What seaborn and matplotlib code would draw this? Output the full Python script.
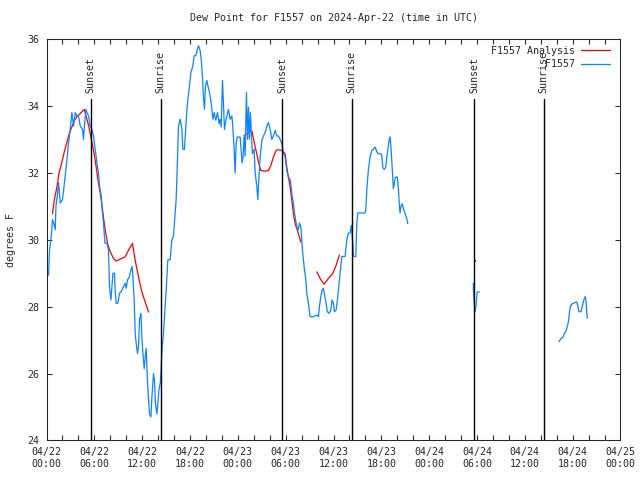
import pandas as pd
import matplotlib
matplotlib.use("Agg")
import matplotlib.pyplot as plt
import matplotlib.dates as mdates
from matplotlib.lines import Line2D
import seaborn as sns

obs_hours_1 = [0.25, 0.38, 0.59, 0.75, 0.90, 1.09, 1.18, 1.34, 1.50, 1.72, 2.01, 2.34, 2.56, 2.76,
               2.97, 3.18, 3.39, 3.60, 3.81, 4.01, 4.23, 4.51, 4.64, 4.76, 4.94, 5.07, 5.27, 5.48,
               5.69, 5.89, 6.11, 6.32, 6.52, 6.65, 6.86, 6.98, 7.15, 7.24, 7.32, 7.57, 7.77, 7.90,
               8.08, 8.20, 8.33, 8.53, 8.61, 8.74, 8.95, 9.15, 9.37, 9.66, 9.87, 9.99, 10.16, 10.41,
               10.58, 10.75, 10.83, 11.00, 11.12, 11.25, 11.41, 11.54, 11.66, 11.84, 11.96, 12.09,
               12.25, 12.38, 12.50, 12.66, 12.79, 12.92, 13.09, 13.22, 13.42, 13.54, 13.67, 13.84,
               13.97, 14.09, 14.26, 14.34, 14.47, 14.67, 14.80, 15.01, 15.22, 15.51, 15.72, 15.92,
               16.14, 16.26, 16.35, 16.55, 16.77, 16.98, 17.10, 17.30, 17.48, 17.61, 17.73, 17.89,
               18.11, 18.36, 18.52, 18.73, 18.86, 19.06, 19.27, 19.40, 19.56, 19.69, 19.81, 19.94,
               20.11, 20.24, 20.44, 20.65, 20.87, 21.03, 21.24, 21.44, 21.66, 21.78, 21.91, 22.07,
               22.19, 22.32, 22.53, 22.70, 22.82, 23.03, 23.25, 23.37, 23.54, 23.66, 23.79, 23.95,
               24.16, 24.29, 24.41, 24.54, 24.66, 24.79, 24.91, 25.08, 25.21, 25.33, 25.45, 25.58,
               25.71, 25.83, 26.04, 26.17, 26.38, 26.51, 26.63, 26.80, 27.01, 27.21, 27.42, 27.64,
               27.84, 28.05, 28.26, 28.46, 28.68, 28.89, 29.09, 29.30, 29.52, 29.72, 29.93, 30.14,
               30.34, 30.56, 30.68, 30.81, 30.97, 31.10, 31.31, 31.47, 31.60, 31.72, 31.90, 32.10,
               32.31, 32.53, 32.65, 32.85, 33.07, 33.48, 33.91, 34.11, 34.23, 34.41, 34.57, 34.73,
               34.91, 35.07, 35.23, 35.45, 35.66, 35.82, 35.99, 36.11, 36.33, 36.49, 36.66, 36.83,
               37.04, 37.45, 37.67, 37.87, 38.08, 38.24, 38.42, 38.50, 38.80, 38.92, 39.05, 39.96,
               40.05, 40.18, 40.38, 40.59, 40.80, 41.00, 41.22, 41.43, 41.63, 41.93, 42.06, 42.18,
               42.34, 42.56, 42.68, 42.81, 42.97, 43.10, 43.22, 43.35, 43.51, 43.64, 43.76, 44.01,
               44.14, 44.26, 44.35, 44.48, 44.64, 44.76, 44.98, 45.19, 45.32]
obs_dewpt_1 = [28.94, 29.7, 30.1, 30.6, 30.5, 30.3, 31.0, 31.3, 31.7, 31.1, 31.2, 31.9, 32.4, 32.9,
               33.3, 33.8, 33.4, 33.8, 33.7, 33.7, 33.4, 33.3, 33.0, 33.4, 33.9, 33.8, 33.7, 33.4,
               33.3, 33.1, 32.7, 32.3, 32.0, 31.6, 31.3, 30.9, 30.5, 30.2, 29.9, 29.9, 29.7, 28.6,
               28.2, 28.6, 29.0, 29.0, 28.5, 28.1, 28.1, 28.4, 28.45, 28.6, 28.7, 28.55, 28.8, 28.9,
               29.1, 29.2, 28.9, 28.2, 27.2, 26.9, 26.6, 26.8, 27.6, 27.8, 27.1, 26.6,
               26.15, 26.5, 26.75, 25.8, 25.26, 24.8, 24.7, 25.3, 26.0, 25.8, 25.1, 24.8,
               25.1, 25.5, 25.7, 26.0, 26.65, 27.2, 27.7, 28.5, 29.4, 29.4, 30.0, 30.1,
               30.8, 31.2, 31.8, 33.4, 33.6, 33.3, 32.7, 32.7, 33.4, 33.9, 34.2, 34.5,
               35.0, 35.2, 35.5, 35.5, 35.65, 35.8, 35.65, 35.4, 34.86, 34.26, 33.9, 34.6,
               34.76, 34.6, 34.4, 34.1, 33.6, 33.8, 33.57, 33.8, 33.47, 33.6, 33.37, 34.76,
               34.1, 33.3, 33.6, 33.77, 33.9, 33.6, 33.7, 33.37, 32.67, 32.0, 32.9, 33.07,
               33.07, 33.07, 32.67, 32.3, 32.5, 33.1, 32.5, 34.4, 33.0, 33.96, 33.0, 33.8,
               33.1, 32.57, 32.7, 32.0, 31.6, 31.2, 31.8, 32.47, 32.97, 33.1, 33.2, 33.4,
               33.5, 33.3, 33.0, 33.1, 33.27, 33.1, 33.1, 33.0, 32.87, 32.6, 32.47, 32.07,
               31.87, 31.8, 31.6, 31.3, 31.1, 30.8, 30.5, 30.33, 30.3, 30.5, 30.4, 29.7,
               29.2, 28.8, 28.4, 28.1, 27.7, 27.7, 27.75, 27.7, 28.0, 28.3, 28.5, 28.55,
               28.3, 28.1, 27.85, 27.8, 27.9, 28.2, 28.1, 27.85, 27.9, 28.2, 28.6, 29.0,
               29.5, 29.5, 30.0, 30.2, 30.2, 30.43, 29.9, 29.5, 29.5, 30.5, 30.8, 30.8,
               30.9, 31.5, 32.1, 32.47, 32.67, 32.7, 32.77, 32.63, 32.57, 32.57, 32.52, 32.17,
               32.1, 32.17, 32.47, 32.67, 32.97, 33.07, 32.72, 32.17, 31.53, 31.7, 31.87, 31.87,
               31.53, 31.03, 30.8, 31.03, 31.07, 30.93, 30.78, 30.63, 30.48]
obs_hours_2 = [53.54, 53.55, 53.67, 53.76, 53.88, 53.97, 54.04, 54.29]
obs_dewpt_2 = [28.7, 28.5, 28.05, 27.85, 28.05, 28.3, 28.44, 28.44]
obs_hours_3 = [64.29, 64.54, 64.83, 64.95, 65.13, 65.25, 65.38, 65.50, 65.58, 65.71, 65.88, 66.08,
               66.29, 66.51, 66.63, 66.79, 67.04, 67.21, 67.33, 67.46, 67.59, 67.68, 67.76, 67.84]
obs_dewpt_3 = [26.95, 27.05, 27.1, 27.2, 27.25, 27.35, 27.45, 27.6, 27.8, 28.0, 28.07, 28.1,
               28.12, 28.14, 28.05, 27.85, 27.85, 28.0, 28.14, 28.24, 28.3, 28.14, 27.85, 27.65]

# analysis dew point
ana_hours_1 = [0.75, 0.97, 1.30, 1.59, 1.93, 2.22, 2.56, 2.85, 3.18, 3.51, 3.89, 4.23, 4.51, 4.73,
               4.94, 5.10, 5.27, 5.44, 5.69, 5.89, 6.11, 6.32, 6.52, 6.73, 6.95, 7.15, 7.36, 7.65,
               7.99, 8.40, 8.74, 9.24, 9.87, 10.28, 10.78, 11.12, 11.54, 11.96, 12.38, 12.79]
ana_dewpt_1 = [30.78, 31.18, 31.58, 32.02, 32.32, 32.62, 32.92, 33.17, 33.37, 33.57, 33.7, 33.77,
               33.85, 33.89, 33.72, 33.57, 33.42, 33.22, 32.92, 32.67, 32.37, 32.02, 31.68, 31.4,
               31.05, 30.65, 30.3, 29.89, 29.64, 29.44, 29.36, 29.42, 29.49, 29.69, 29.89, 29.39,
               28.89, 28.44, 28.14, 27.84]
ana_hours_2 = [24.79, 25.13, 25.45, 25.76, 25.96, 26.17, 26.38, 26.58, 26.88, 27.42, 27.84, 28.14,
               28.46, 28.80, 29.09, 29.52, 29.72, 29.93, 30.14, 30.34, 30.56, 30.77, 30.97, 31.18,
               31.40, 31.60, 31.90]
ana_dewpt_2 = [33.12, 33.17, 33.22, 33.25, 33.02, 32.77, 32.57, 32.32, 32.07, 32.05, 32.07, 32.22,
               32.47, 32.67, 32.69, 32.67, 32.62, 32.57, 32.17, 31.87, 31.58, 31.18, 30.78, 30.48,
               30.33, 30.18, 29.93]
ana_hours_3 = [33.91, 34.32, 34.82, 35.36, 35.91, 36.33, 36.74]
ana_dewpt_3 = [29.04, 28.84, 28.67, 28.84, 28.99, 29.24, 29.54]
ana_hours_4 = [53.76]
ana_dewpt_4 = [29.36]

sunset_times = ["2024-04-22 05:31", "2024-04-23 05:35", "2024-04-24 05:40"]
sunrise_times = ["2024-04-22 14:18", "2024-04-23 14:17", "2024-04-24 14:22"]

start = pd.Timestamp("2024-04-22 00:00")
blue = "#0a84ff"
red = "#ff0000"


def make_frame(pairs):
    parts = []
    for i, (hrs, vals) in enumerate(pairs):
        parts.append(pd.DataFrame({"time": start + pd.to_timedelta(hrs, unit="h"),
                                   "dewpt": vals, "segment": i}))
    return pd.concat(parts, ignore_index=True)


obs = make_frame([(obs_hours_1, obs_dewpt_1), (obs_hours_2, obs_dewpt_2), (obs_hours_3, obs_dewpt_3)])
ana = make_frame([(ana_hours_1, ana_dewpt_1), (ana_hours_2, ana_dewpt_2), (ana_hours_3, ana_dewpt_3)])
ana_dot = make_frame([(ana_hours_4, ana_dewpt_4)])

sns.set_style("ticks")
plt.rcParams["font.family"] = ["DejaVu Sans Mono"]
plt.rcParams["font.size"] = 7.2

fig = plt.figure(figsize=(6.4, 4.8), dpi=100)
ax = fig.add_axes([0.0727, 0.0823, 0.8968, 0.8365])

sns.lineplot(data=ana, x="time", y="dewpt", units="segment", estimator=None,
             color=red, linewidth=0.9, legend=False, ax=ax)
sns.scatterplot(data=ana_dot, x="time", y="dewpt", color=red, marker="s", s=2,
                linewidth=0, legend=False, ax=ax)
sns.lineplot(data=obs, x="time", y="dewpt", units="segment", estimator=None,
             color=blue, linewidth=0.9, legend=False, ax=ax)

for label, times in [("Sunset", sunset_times), ("Sunrise", sunrise_times)]:
    for t in pd.to_datetime(times):
        ax.axvline(t, ymin=0, ymax=0.85, color="black", linewidth=1.0, zorder=3)
        ax.text(t, 0.865, label, rotation=90, ha="center", va="bottom",
                transform=ax.get_xaxis_transform(), fontsize=7.2)

ax.set_xlim(start, pd.Timestamp("2024-04-25 00:00"))
ax.set_ylim(24, 36)
ax.set_yticks(range(24, 37, 2))
ax.xaxis.set_major_locator(mdates.HourLocator(byhour=[0, 6, 12, 18]))
ax.xaxis.set_minor_locator(mdates.HourLocator(byhour=range(0, 24, 2)))
ax.xaxis.set_major_formatter(mdates.DateFormatter("%m/%d\n%H:%M"))
ax.tick_params(which="both", direction="in", top=True, right=True, width=0.75, pad=5)
ax.tick_params(which="major", length=3.3)
ax.tick_params(which="minor", length=3.3)
for s in ax.spines.values():
    s.set_visible(True)
    s.set_linewidth(0.75)

ax.set_title("Dew Point for F1557 on 2024-Apr-22 (time in UTC)", fontsize=7.2, pad=13)
ax.set_xlabel("")
ax.set_ylabel("degrees F", labelpad=8)

handles = [Line2D([], [], color=red, linewidth=0.9), Line2D([], [], color=blue, linewidth=0.9)]
names = ["F1557 Analysis", "F1557".rjust(len("F1557 Analysis"))]
ax.legend(handles, names, loc="upper right", bbox_to_anchor=(0.953, 0.905),
          bbox_transform=fig.transFigure, frameon=False, markerfirst=False,
          borderpad=0, borderaxespad=0, handlelength=2.9, handletextpad=0.6,
          labelspacing=0.35, fontsize=7.2)

fig.savefig("out.png", dpi=100)
